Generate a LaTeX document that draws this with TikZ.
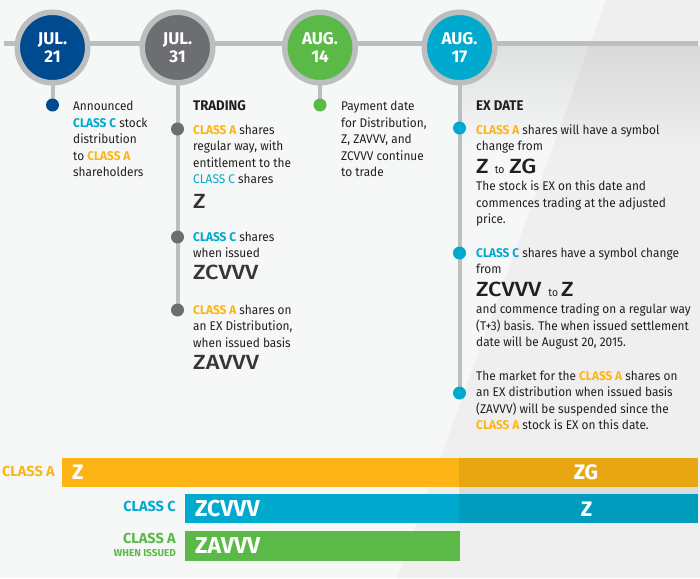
\documentclass[tikz,border=0pt]{standalone}
\usepackage{fontspec}
\setmainfont{Fira Sans}
\newfontfamily\bodyf{Fira Sans}[FakeStretch=0.94]
\newfontfamily\symf{Fira Sans Medium}[FakeStretch=1.15]
\usetikzlibrary{fadings}
\definecolor{bgL}{HTML}{F6F7F7}
\definecolor{bgR}{HTML}{EFEFEF}
\definecolor{ring}{HTML}{BCBEC0}
\definecolor{navy}{HTML}{004A8F}
\definecolor{dgray}{HTML}{6D6E71}
\definecolor{grn}{HTML}{5BB947}
\definecolor{cyn}{HTML}{00AACE}
\definecolor{org}{HTML}{FDB515}
\definecolor{txt}{HTML}{231F20}
\newcommand\CA{{\bfseries\color{org}CLASS A}}
\newcommand\CC{{\bfseries\color{cyn}CLASS C}}
\newcommand\bigsym[1]{{\symf\fontsize{20.5}{22}\selectfont #1}}
\newcommand\smto{{\fontsize{11}{12}\selectfont to}}
\newcommand\hd[1]{{\fontsize{14}{15}\selectfont\bfseries #1}}
\begin{document}
\begin{tikzpicture}[x=1pt,y=-1pt,
  body/.style={anchor=base west, inner sep=0, font=\bodyf\fontsize{12.6}{15}\selectfont, text=txt},
  big/.style={anchor=base west, inner sep=0, font=\symf\fontsize{20.5}{24}\selectfont, text=txt!90},
  datec/.style={circle, fill=#1, draw=ring, line width=5.5, minimum size=70.5, inner sep=0, text=white,
     font=\bfseries\fontsize{17}{18}\selectfont, align=center},
  dot/.style={circle, fill=#1, minimum size=13, inner sep=0},
  vline/.style={draw=ring, line width=4},
  barlbl/.style={anchor=base east, inner sep=0, font=\bfseries\fontsize{14.5}{15}\selectfont},
  bartxt/.style={inner sep=0, text=white, font=\bfseries\fontsize{21}{22}\selectfont},
]
\fill[bgL] (0,0) rectangle (700,578);
\useasboundingbox (0,0) rectangle (700,578);
\fill[bgR] (606,0) -- (700,0) -- (700,578) -- (397,578) -- cycle;
\fill[black, opacity=0.09, path fading=south] (460,46) rectangle (700,150);

% coordinates
\coordinate (c1) at (52.5,47.5);
\coordinate (c2) at (177.5,47.5);
\coordinate (c3) at (320,47.5);
\coordinate (c4) at (459.5,47.5);
\coordinate (tlL) at (4,44);
\coordinate (tlR) at (698,44);
\draw[ring, line width=5] (tlL) -- (tlR);

\coordinate (p1) at (52.5,105);
\coordinate (p2a) at (177.5,129);
\coordinate (p2b) at (177.5,237);
\coordinate (p2c) at (177.5,310);
\coordinate (p3) at (320,105);
\coordinate (p4a) at (459.5,128);
\coordinate (p4b) at (459.5,253);
\coordinate (p4c) at (459.5,393);
\draw[vline] (c1) -- (p1);
\draw[vline] (c2) -- (p2c);
\draw[vline] (c3) -- (p3);
\draw[vline] (c4) -- (p4c);

\node[datec=navy] (j21) at (c1) {JUL.\\21};
\node[datec=dgray] (j31) at (c2) {JUL.\\31};
\node[datec=grn] (a14) at (c3) {AUG.\\14};
\node[datec=cyn] (a17) at (c4) {AUG.\\17};

\node[dot=navy] (d1) at (p1) {};
\node[dot=dgray] (d2a) at (p2a) {};
\node[dot=dgray] (d2b) at (p2b) {};
\node[dot=dgray] (d2c) at (p2c) {};
\node[dot=grn] (d3) at (p3) {};
\node[dot=cyn] (d4a) at (p4a) {};
\node[dot=cyn] (d4b) at (p4b) {};
\node[dot=cyn] (d4c) at (p4c) {};

% column 1
\node[body] (a1) at (73,110.5) {Announced};
\node[body] (a2) at (73,127) {\CC\ stock};
\node[body] (a3) at (73,143.5) {distribution};
\node[body] (a4) at (73,160) {to \CA};
\node[body] (a5) at (73,176.7) {shareholders};

% column 2
\node[body] (b0) at (193,110.5) {\hd{TRADING}};
\node[body] (b1) at (193,134) {\CA\ shares};
\node[body] (b2) at (193,150.5) {regular way, with};
\node[body] (b3) at (193,167) {entitlement to the};
\node[body] (b4) at (193,183.3) {{\color{cyn}CLASS C} shares};
\node[big] (b5) at (193,208.3) {Z};
\node[body] (b6) at (193,241.3) {\CC\ shares};
\node[body] (b7) at (193,257.5) {when issued};
\node[big] (b8) at (193,279) {ZCVVV};
\node[body] (b9) at (193,314.3) {\CA\ shares on};
\node[body] (b10) at (193,330.5) {an EX Distribution,};
\node[body] (b11) at (193,347) {when issued basis};
\node[big] (b12) at (193,369.3) {ZAVVV};

% column 3
\node[body] (m1) at (341,110.7) {Payment date};
\node[body] (m2) at (341,127) {for Distribution,};
\node[body] (m3) at (341,143.5) {Z, ZAVVV, and};
\node[body] (m4) at (341,160) {ZCVVV continue};
\node[body] (m5) at (341,176.5) {to trade};

% column 4
\node[body] (e0) at (476,110.7) {\hd{EX DATE}};
\node[body] (e1) at (476,134) {\CA\ shares will have a symbol};
\node[body] (e2) at (476,150.5) {change from};
\node[body] (e3) at (476,173.3) {\bigsym{Z}\hspace{6pt}\smto\hspace{5pt}\bigsym{ZG}};
\node[body] (e4) at (476,190.5) {The stock is EX on this date and};
\node[body] (e5) at (476,207) {commences trading at the adjusted};
\node[body] (e6) at (476,223.3) {price.};
\node[body] (e7) at (476,257.3) {\CC\ shares have a symbol change};
\node[body] (e8) at (476,273.5) {from};
\node[body] (e9) at (476,296.7) {\bigsym{ZCVVV}\hspace{7pt}\smto\hspace{3pt}\bigsym{Z}};
\node[body] (e10) at (476,313.3) {and commence trading on a regular way};
\node[body] (e11) at (476,330) {(T+3) basis. The when issued settlement};
\node[body] (e12) at (476,346.5) {date will be August 20, 2015.};
\node[body] (e13) at (476,380) {The market for the \CA\ shares on};
\node[body] (e14) at (476,396.5) {an EX distribution when issued basis};
\node[body] (e15) at (476,413) {(ZAVVV) will be suspended since the};
\node[body] (e16) at (476,429.5) {\CA\ stock is EX on this date.};

% bars
\fill[org] (62,458) rectangle (698,487);
\fill[cyn] (185,494) rectangle (698,523);
\fill[grn] (185,531) rectangle (460,561);
\fill[black, opacity=0.08] (459,458) rectangle (698,523);

\node[barlbl, text=org] (lA) at (55,476.7) {CLASS A};
\node[bartxt, anchor=base west] (zA) at (72,479) {Z};
\node[bartxt, anchor=base] (zG) at (586,479) {ZG};
\node[barlbl, text=cyn] (lC) at (176,511.7) {CLASS C};
\node[bartxt, anchor=base west, font=\bfseries\fontsize{23}{24}\selectfont] (zC) at (195,516) {ZCVVV};
\node[bartxt, anchor=base] (zZ) at (586.5,516) {Z};
\node[barlbl, text=grn] (lW) at (176,543.3) {CLASS A};
\node[anchor=base east, inner sep=0, text=grn, font=\bfseries\fontsize{10}{10}\selectfont] (lW2) at (176,556.7) {WHEN ISSUED};
\node[bartxt, anchor=base west, font=\bfseries\fontsize{23}{24}\selectfont] (zW) at (195,553.3) {ZAVVV};
\end{tikzpicture}
\end{document}
